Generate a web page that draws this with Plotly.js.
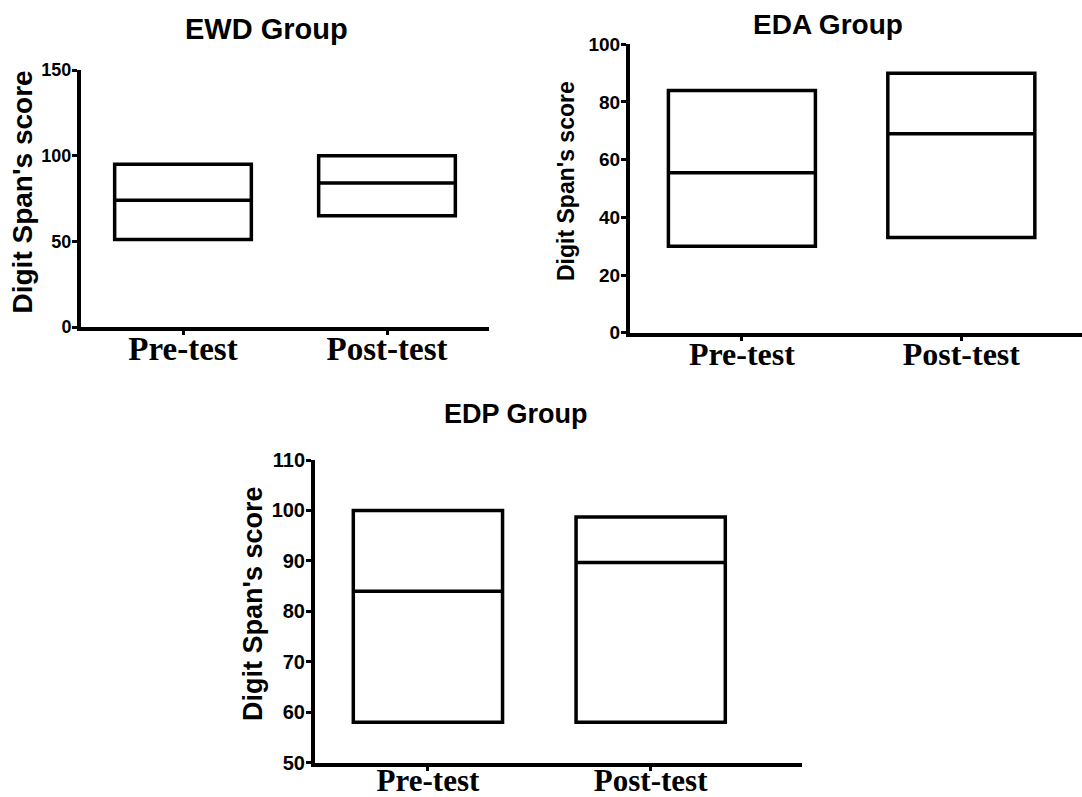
<!DOCTYPE html>
<html>
<head>
<meta charset="utf-8">
<script src="https://cdn.plot.ly/plotly-3.0.1.min.js"></script>
<style>html,body{margin:0;padding:0;background:#fff;}#chart{width:1082px;height:797px;}</style>
</head>
<body>
<div id="chart"></div>
<script>
// Categories
const categories = ['Pre-test', 'Post-test'];

// EWD Group
const ewdQ1 = [51, 65];
const ewdMedian = [74, 84];
const ewdQ3 = [95, 100];

// EDA Group
const edaQ1 = [30, 33];
const edaMedian = [55.5, 69];
const edaQ3 = [84, 90];

// EDP Group
const edpQ1 = [58, 58];
const edpMedian = [84, 89.7];
const edpQ3 = [100, 98.7];

const groupTitles = ['EWD Group', 'EDA Group', 'EDP Group'];
const yTitle = "Digit Span's score";

const W = 1082, H = 797;
const px = v => v / W;
const py = v => 1 - v / H;

function boxTrace(q1, med, q3, xa, ya) {
  return {
    type: 'box', x: categories, q1: q1, median: med, q3: q3,
    lowerfence: q1, upperfence: q3,
    xaxis: xa, yaxis: ya, boxpoints: false, whiskerwidth: 0,
    width: 0.67, fillcolor: 'rgba(0,0,0,0)',
    line: {color: '#000', width: 3.5}, hoverinfo: 'skip', showlegend: false
  };
}

const data = [
  boxTrace(ewdQ1, ewdMedian, ewdQ3, 'x', 'y'),
  boxTrace(edaQ1, edaMedian, edaQ3, 'x2', 'y2'),
  boxTrace(edpQ1, edpMedian, edpQ3, 'x3', 'y3')
];

function xAxis(domain, range, anchor, size, standoff) {
  return {
    domain: domain, range: range, anchor: anchor, type: 'category',
    showline: true, linewidth: 4, linecolor: '#000', showgrid: false, zeroline: false,
    ticks: 'outside', ticklen: 4, tickwidth: 3, tickcolor: '#000',
    tickfont: {family: 'Liberation Serif', size: size, color: '#000', weight: 'bold'},
    ticklabelstandoff: standoff, fixedrange: true
  };
}
function yAxis(domain, range, dtick, anchor, size) {
  return {
    domain: domain, range: range, dtick: dtick, tick0: 0, anchor: anchor,
    showline: true, linewidth: 4, linecolor: '#000', showgrid: false, zeroline: false,
    ticks: 'outside', ticklen: 5, tickwidth: 3, tickcolor: '#000',
    tickfont: {family: 'Liberation Sans', size: size, color: '#000', weight: 'bold'},
    ticklabelstandoff: -3, fixedrange: true
  };
}

function ann(text, x, y, size, angle) {
  return {
    text: text, xref: 'paper', yref: 'paper', x: px(x), y: py(y),
    xanchor: 'center', yanchor: 'middle', showarrow: false, textangle: angle || 0,
    font: {family: 'Liberation Sans', size: size, color: '#000', weight: 'bold'}
  };
}

const layout = {
  width: W, height: H,
  margin: {l: 0, r: 0, t: 0, b: 0},
  paper_bgcolor: '#fff', plot_bgcolor: 'rgba(0,0,0,0)',
  showlegend: false,
  xaxis: xAxis([px(81), px(489)], [-0.5, 1.5], 'y', 33, -15),
  yaxis: yAxis([py(327), py(70)], [0, 150], 50, 'x', 18),
  xaxis2: xAxis([px(630), px(1082)], [-0.51, 1.55], 'y2', 32, -14),
  yaxis2: yAxis([py(332.7), py(44.3)], [0, 100], 20, 'x2', 19),
  xaxis3: xAxis([px(315), px(801.7)], [-0.507, 1.678], 'y3', 31, -17),
  yaxis3: yAxis([py(762.7), py(460)], [50, 110], 10, 'x3', 20),
  annotations: [
    ann(groupTitles[0], 266, 29, 29),
    ann(groupTitles[1], 828, 24, 28),
    ann(groupTitles[2], 515.5, 414, 27),
    ann(yTitle, 22, 192.5, 28, -90),
    ann(yTitle, 566, 181, 23, -90),
    ann(yTitle, 253, 604, 27, -90)
  ]
};

Plotly.newPlot('chart', data, layout, {displayModeBar: false, staticPlot: true});
</script>
</body>
</html>
